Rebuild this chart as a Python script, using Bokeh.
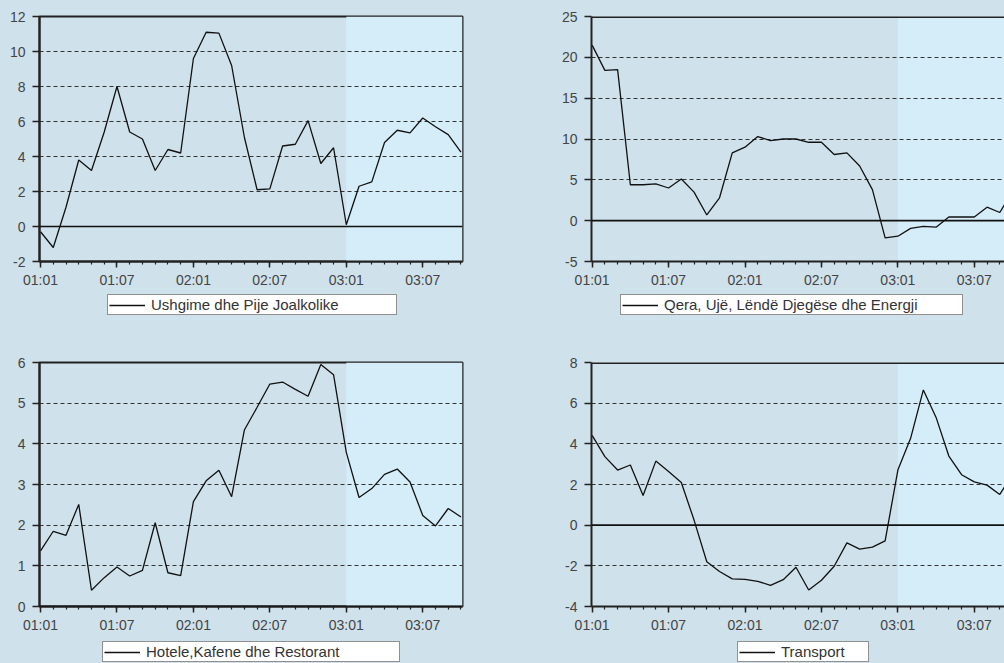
from bokeh.plotting import figure
from bokeh.layouts import column, row
from bokeh.models import FixedTicker, Span, BoxAnnotation, Legend, LegendItem
from bokeh.embed import file_html
from bokeh.resources import INLINE

# ---- data ----
months = list(range(34))
tick_pos = [0, 6, 12, 18, 24, 30]
tick_labels = ["01:01", "01:07", "02:01", "02:07", "03:01", "03:07"]
forecast_start = 24

food = [-0.3, -1.2, 1.1, 3.8, 3.2, 5.4, 8.0, 5.4, 5.0, 3.2, 4.4, 4.2, 9.6, 11.1,
        11.05, 9.2, 5.1, 2.1, 2.15, 4.6, 4.7, 6.05, 3.6, 4.5, 0.1, 2.3, 2.55, 4.8,
        5.5, 5.35, 6.2, 5.7, 5.25, 4.25]
rent = [21.5, 18.4, 18.5, 4.4, 4.4, 4.5, 4.0, 5.1, 3.5, 0.7, 2.8, 8.3, 9.0, 10.3,
        9.8, 10.0, 10.0, 9.6, 9.6, 8.1, 8.3, 6.7, 3.8, -2.1, -1.9, -0.95, -0.7,
        -0.8, 0.45, 0.45, 0.45, 1.65, 1.0, 3.6]
hotels = [1.37, 1.85, 1.75, 2.51, 0.4, 0.71, 0.97, 0.75, 0.89, 2.06, 0.83, 0.76,
          2.58, 3.09, 3.35, 2.7, 4.34, 4.9, 5.47, 5.52, 5.34, 5.17, 5.95, 5.7,
          3.79, 2.68, 2.9, 3.25, 3.38, 3.06, 2.24, 1.98, 2.41, 2.2]
transport = [4.42, 3.37, 2.71, 2.96, 1.46, 3.15, 2.64, 2.1, 0.25, -1.8, -2.28,
             -2.64, -2.67, -2.76, -2.96, -2.68, -2.07, -3.19, -2.71, -2.02, -0.87,
             -1.18, -1.08, -0.77, 2.71, 4.27, 6.65, 5.3, 3.4, 2.48, 2.13, 1.97,
             1.51, 2.5]

names = ["Ushgime dhe Pije Joalkolike",
         "Qera, Ujë, Lëndë Djegëse dhe Energji",
         "Hotele,Kafene dhe Restorant",
         "Transport"]

BG = "#cfe1eb"
BLUE = "#d4edf9"
DARK = "#222222"
LINE = "#111111"
FONT = "Liberation Sans"


def panel(vals, yticks, yr, xr, w, h, mb, full_outline):
    p = figure(width=w, height=h, x_range=xr, y_range=yr,
               output_backend="svg", toolbar_location=None,
               min_border_left=mb[0], min_border_right=mb[1],
               min_border_top=mb[2], min_border_bottom=mb[3])
    p.background_fill_color = BG
    p.border_fill_color = BG
    p.add_layout(BoxAnnotation(left=forecast_start, fill_color=BLUE, fill_alpha=1,
                               line_color=None, level="image"))
    p.xgrid.visible = False
    p.ygrid.ticker = FixedTicker(ticks=yticks)
    p.ygrid.grid_line_color = "#333333"
    p.ygrid.grid_line_dash = "4 3"
    p.ygrid.grid_line_width = 1

    if full_outline:
        p.outline_line_color = DARK
        p.outline_line_width = 2
    else:
        p.outline_line_color = None
        p.add_layout(Span(location=yr[1], dimension="width", line_color=DARK,
                          line_width=3))

    p.add_layout(Span(location=0, dimension="width", line_color=LINE,
                      line_width=1.6))

    p.line(months, vals, line_color=LINE, line_width=1.3)

    xa = p.xaxis[0]
    xa.ticker = FixedTicker(ticks=tick_pos, minor_ticks=months)
    xa.major_label_overrides = {t: l for t, l in zip(tick_pos, tick_labels)}
    xa.axis_line_color = DARK
    xa.axis_line_width = 2
    xa.major_tick_out = 6
    xa.major_tick_in = 0
    xa.minor_tick_out = 3
    xa.minor_tick_in = 0
    xa.major_tick_line_color = DARK
    xa.major_tick_line_width = 1.5
    xa.minor_tick_line_color = DARK
    xa.minor_tick_line_width = 1.2
    xa.major_label_standoff = 4
    xa.major_label_text_font = FONT
    xa.major_label_text_font_size = "14px"
    xa.major_label_text_color = "#444444"

    ya = p.yaxis[0]
    ya.ticker = FixedTicker(ticks=yticks, minor_ticks=[])
    ya.major_label_overrides = {t: str(t) for t in yticks}
    ya.axis_line_color = DARK
    ya.axis_line_width = 2
    ya.major_tick_out = 7
    ya.major_tick_in = 0
    ya.major_tick_line_color = DARK
    ya.major_tick_line_width = 1.5
    ya.minor_tick_line_color = None
    ya.major_label_standoff = 7
    ya.major_label_text_font = FONT
    ya.major_label_text_font_size = "14px"
    ya.major_label_text_color = "#444444"
    return p


def legend_strip(vals, name, w, h, loc, label_w):
    # strip below a panel that only carries the panel's legend box;
    # its ranges keep the series itself out of view, only the key shows
    f = figure(width=w, height=h, x_range=(0, 1), y_range=(1000, 1001),
               output_backend="svg", toolbar_location=None,
               x_axis_location=None, y_axis_location=None, min_border=0)
    f.background_fill_color = BG
    f.border_fill_color = BG
    f.outline_line_color = None
    f.grid.visible = False
    key = f.line(months, vals, line_color=LINE, line_width=1.3)
    leg = Legend(items=[LegendItem(label=name, renderers=[key])], location=loc)
    leg.background_fill_color = "white"
    leg.background_fill_alpha = 1
    leg.border_line_color = DARK
    leg.border_line_width = 1.5
    leg.padding = 1
    leg.spacing = 0
    leg.margin = 0
    leg.glyph_width = 36
    leg.glyph_height = 10
    leg.label_height = 10
    leg.label_standoff = 6
    leg.label_width = label_w
    leg.label_text_font = FONT
    leg.label_text_font_size = "15px"
    leg.label_text_color = "#333333"
    f.add_layout(leg)
    return f


LX = (-0.08, 33.12)
RX = (-0.05, 32.37)

p1 = panel(food, [-2, 0, 2, 4, 6, 8, 10, 12], (-2, 12), LX, 520, 290, (39, 58, 16, 28), True)
p2 = panel(rent, [-5, 0, 5, 10, 15, 20, 25], (-5, 25), RX, 484, 290, (71, 0, 16, 28), False)
p3 = panel(hotels, [0, 1, 2, 3, 4, 5, 6], (0, 6), LX, 520, 305, (39, 58, 32, 28), True)
p4 = panel(transport, [-4, -2, 0, 2, 4, 6, 8], (-4, 8), RX, 484, 305, (71, 0, 32, 28), False)

l1 = legend_strip(food, names[0], 520, 40, (107, 15), 244)
l2 = legend_strip(rent, names[1], 484, 40, (100, 15), 297)
l3 = legend_strip(hotels, names[2], 520, 28, (102, 1), 252)
l4 = legend_strip(transport, names[3], 484, 28, (217, 1), 86)

bg = {"background-color": BG}
layout = column(row(p1, p2, spacing=0, styles=bg),
                row(l1, l2, spacing=0, styles=bg),
                row(p3, p4, spacing=0, styles=bg),
                row(l3, l4, spacing=0, styles=bg),
                spacing=0, styles=bg)

open("out.html", "w").write(file_html(layout, INLINE))
